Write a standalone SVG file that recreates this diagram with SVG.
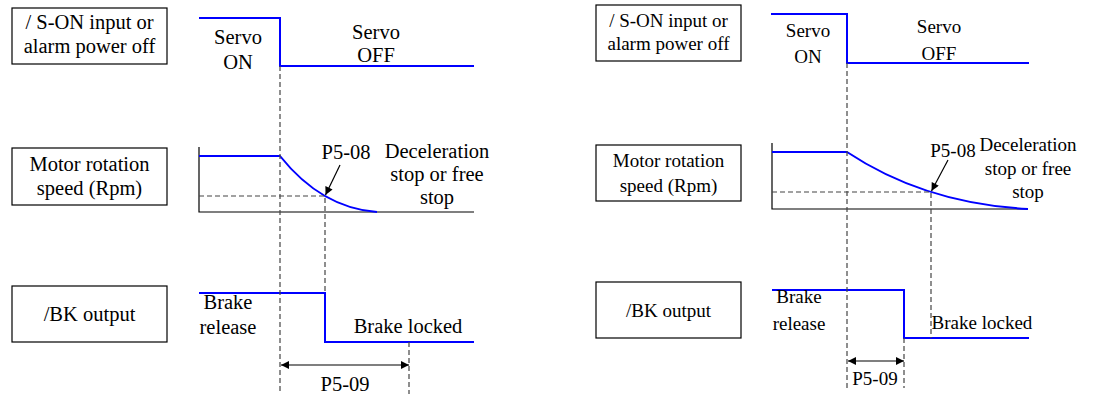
<svg xmlns="http://www.w3.org/2000/svg" width="1119" height="394" viewBox="0 0 1119 394">
<defs>
<style>
.box{fill:#fff;stroke:#000;stroke-width:1.2}
.t{font-family:'Liberation Serif','DejaVu Serif',serif;fill:#000;text-anchor:middle}
.L{font-size:20.5px}
.R{font-size:19px}
.sig{fill:none;stroke:#0000ff;stroke-width:2}
.axis{fill:none;stroke:#000;stroke-width:1.2}
.dash{fill:none;stroke:#444;stroke-width:1.2;stroke-dasharray:5,3}
.arr{fill:none;stroke:#000;stroke-width:1.2}
</style>
<marker id="ah" viewBox="0 0 10 10" refX="10" refY="5" markerWidth="10" markerHeight="8" markerUnits="userSpaceOnUse" orient="auto-start-reverse">
<path d="M0,0 L10,5 L0,10 z" fill="#000"/>
</marker>
</defs>
<rect width="1119" height="394" fill="#fff"/>

<g id="L-son-box">
<rect class="box" x="12" y="8" width="155" height="56"/>
<text class="t L" x="89.5" y="29">/ S-ON input or</text>
<text class="t L" x="89.5" y="53">alarm power off</text>
</g>
<g id="L-speed-box">
<rect class="box" x="12" y="148" width="155" height="57"/>
<text class="t L" x="89.5" y="171">Motor rotation</text>
<text class="t L" x="89.5" y="195">speed (Rpm)</text>
</g>
<g id="L-bk-box">
<rect class="box" x="12" y="286" width="155" height="56"/>
<text class="t L" x="89.5" y="321">/BK output</text>
</g>
<g id="L-son-signal">
<path class="sig" d="M199,18 H280 V66 H474"/>
<text class="t L" x="238" y="44">Servo</text>
<text class="t L" x="238" y="69">ON</text>
<text class="t L" x="376" y="39">Servo</text>
<text class="t L" x="376" y="62">OFF</text>
</g>
<g id="L-speed-signal">
<path class="axis" d="M199,147 V212 H474"/>
<path class="sig" d="M199,156 H280 Q321.5,208 377,212"/>
<text class="t L" x="346" y="159">P5-08</text>
<text class="t L" x="437" y="158">Deceleration</text>
<text class="t L" x="437" y="181">stop or free</text>
<text class="t L" x="437" y="204">stop</text>
</g>
<g id="L-bk-signal">
<path class="sig" d="M199,293 H325 V342 H474"/>
<text class="t L" x="228" y="309">Brake</text>
<text class="t L" x="228" y="334">release</text>
<text class="t L" x="408" y="333">Brake locked</text>
<text class="t L" x="345" y="391">P5-09</text>
</g>
<g id="L-connectors">
<path class="dash" d="M280,66 V394"/>
<path class="dash" d="M199,196 H325 V293"/>
<path class="dash" d="M409,342 V394"/>
<path class="arr" d="M340,165 L325.5,195" marker-end="url(#ah)"/>
<path class="arr" d="M281,365 H409" marker-start="url(#ah)" marker-end="url(#ah)"/>
</g>

<g id="R-son-box">
<rect class="box" x="596" y="5" width="145" height="56"/>
<text class="t R" x="668.5" y="27">/ S-ON input or</text>
<text class="t R" x="668.5" y="50">alarm power off</text>
</g>
<g id="R-speed-box">
<rect class="box" x="596" y="145" width="145" height="56"/>
<text class="t R" x="668.5" y="167">Motor rotation</text>
<text class="t R" x="668.5" y="192">speed (Rpm)</text>
</g>
<g id="R-bk-box">
<rect class="box" x="596" y="282" width="145" height="56"/>
<text class="t R" x="668.5" y="317">/BK output</text>
</g>
<g id="R-son-signal">
<path class="sig" d="M771,14 H847 V63 H1029"/>
<text class="t R" x="808" y="37">Servo</text>
<text class="t R" x="808" y="63">ON</text>
<text class="t R" x="939" y="33">Servo</text>
<text class="t R" x="939" y="60">OFF</text>
</g>
<g id="R-speed-signal">
<path class="axis" d="M772,143 V209 H1028"/>
<path class="sig" d="M772,152 H847 Q924.5,203.5 1028,209"/>
<text class="t R" x="953" y="157">P5-08</text>
<text class="t R" x="1028" y="151">Deceleration</text>
<text class="t R" x="1028" y="175">stop or free</text>
<text class="t R" x="1028" y="198">stop</text>
</g>
<g id="R-bk-signal">
<path class="sig" d="M772,290 H904 V338 H1029"/>
<text class="t R" x="799" y="303">Brake</text>
<text class="t R" x="799" y="330">release</text>
<text class="t R" x="982" y="329">Brake locked</text>
<text class="t R" x="875" y="385">P5-09</text>
</g>
<g id="R-connectors">
<path class="dash" d="M847,63 V390"/>
<path class="dash" d="M772,192 H931 V338"/>
<path class="dash" d="M904,338 V388"/>
<path class="arr" d="M948,160 L931.5,191" marker-end="url(#ah)"/>
<path class="arr" d="M848,361 H904" marker-start="url(#ah)" marker-end="url(#ah)"/>
</g>
</svg>
